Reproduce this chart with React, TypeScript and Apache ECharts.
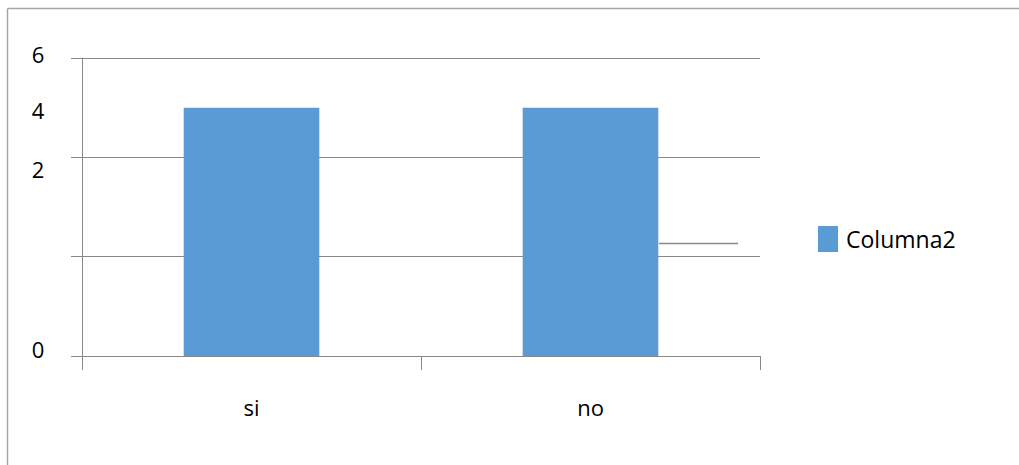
import React, { useEffect, useRef } from "react";
import * as echarts from "echarts";

const categories = ["si", "no"];
const seriesName = "Columna2";
const values = [5, 5];
const yTickLabels = ["6", "4", "2", "0"];

export default function App() {
  const ref = useRef<HTMLDivElement>(null);
  useEffect(() => {
    if (!ref.current) return;
    const chart = echarts.init(ref.current, undefined, { renderer: "svg" });
    const font = "'Open Sans', 'Liberation Sans', sans-serif";
    const labelY = [54, 110, 169, 349];
    chart.setOption({
      animation: false,
      backgroundColor: "#ffffff",
      grid: { left: 82, right: 259, top: 58, bottom: 109 },
      legend: {
        show: true,
        orient: "vertical",
        left: 818,
        top: 226,
        padding: 0,
        itemWidth: 20,
        itemHeight: 26,
        itemGap: 8,
        textStyle: { fontFamily: font, fontSize: 23, color: "#000", padding: [0, 0, 0, 3] },
        data: [{ name: seriesName, icon: "rect" }],
      },
      xAxis: {
        type: "category",
        data: categories,
        boundaryGap: true,
        axisLine: { show: true, lineStyle: { color: "#888", width: 1 } },
        axisTick: { show: true, length: 14, alignWithLabel: false, lineStyle: { color: "#888" } },
        axisLabel: { margin: 40, fontFamily: font, fontSize: 22, color: "#000" },
      },
      yAxis: {
        type: "value",
        min: 0,
        max: 6,
        interval: 2,
        axisLine: { show: true, lineStyle: { color: "#888", width: 1 } },
        axisTick: { show: true, length: 11, lineStyle: { color: "#888" } },
        axisLabel: { show: false },
        splitLine: { show: true, lineStyle: { color: "#888", width: 1 } },
      },
      series: [
        {
          name: seriesName,
          type: "bar",
          data: values,
          barWidth: "40%",
          itemStyle: { color: "#5B9BD5" },
        },
      ],
      graphic: [
        { type: "line", shape: { x1: 7.5, y1: 8.5, x2: 1019, y2: 8.5 }, style: { stroke: "#a6a6a6", lineWidth: 1.5 } },
        { type: "line", shape: { x1: 7.5, y1: 8.5, x2: 7.5, y2: 465 }, style: { stroke: "#a6a6a6", lineWidth: 1.5 } },
        { type: "line", shape: { x1: 659, y1: 243.5, x2: 738, y2: 243.5 }, style: { stroke: "#888", lineWidth: 1.5 } },
        ...yTickLabels.map((t, i) => ({
          type: "text",
          x: 38,
          y: labelY[i],
          style: {
            text: t,
            fontFamily: font,
            fontSize: 22,
            fill: "#000",
            align: "center",
            verticalAlign: "middle",
          },
        })),
      ],
    });
    return () => chart.dispose();
  }, []);
  return (
    <div
      ref={ref}
      style={{ position: "fixed", left: 0, top: 0, width: 1019, height: 465 }}
    />
  );
}
